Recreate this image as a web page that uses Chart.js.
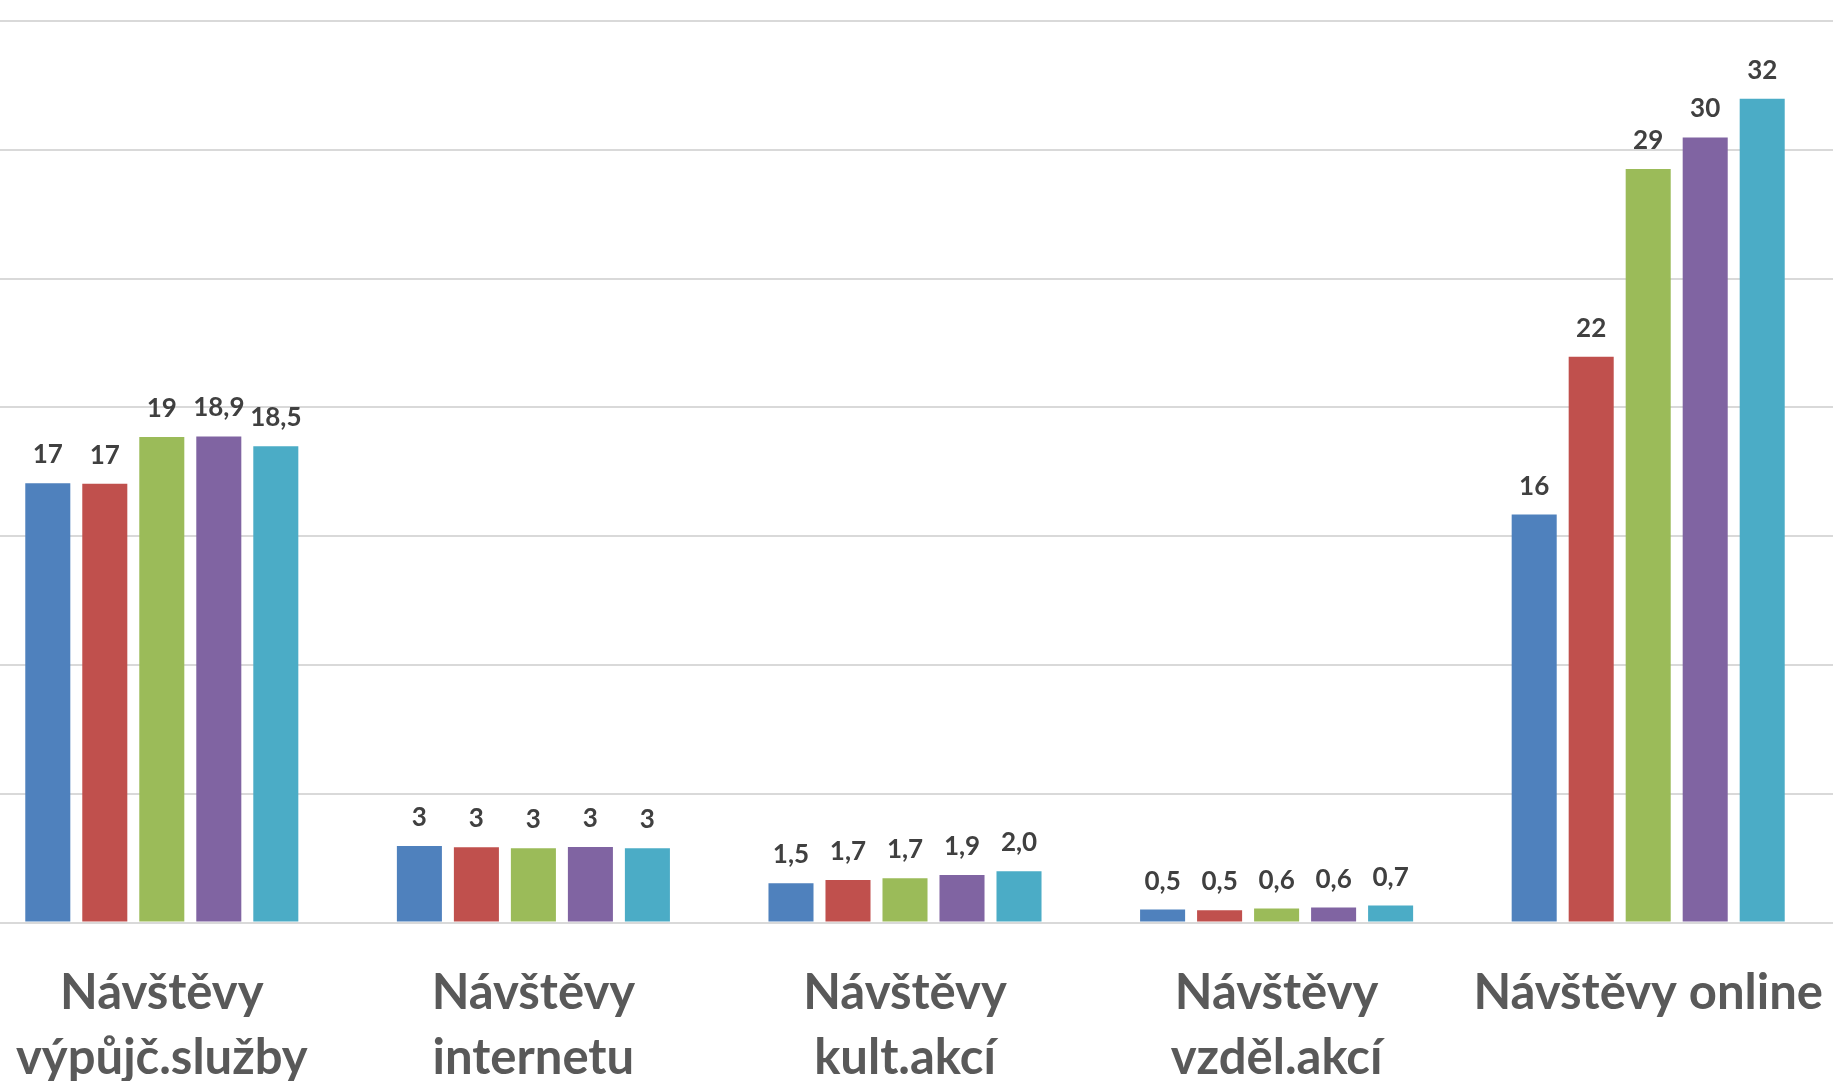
<!DOCTYPE html>
<html>
<head>
    <meta charset="utf-8">
    <title>Návštěvy</title>
    <script src="https://cdn.jsdelivr.net/npm/chart.js"></script>
    <style>
        html, body {
            margin: 0;
            padding: 0;
            background: #ffffff;
            overflow: hidden;
            width: 1833px;
            height: 1081px;
        }
        .chart-box {
            position: absolute;
            left: -24px;
            top: 0;
            width: 1858px;
            height: 1130px;
        }
    </style>
</head>
<body>
<div class="chart-box">
    <canvas id="visits-chart"></canvas>
</div>
<script>
    // categories (two-line labels)
    const categories = [
        ['Návštěvy', 'výpůjč.služby'],
        ['Návštěvy', 'internetu'],
        ['Návštěvy', 'kult.akcí'],
        ['Návštěvy', 'vzděl.akcí'],
        ['Návštěvy online']
    ];

    // bar heights, one array per series
    const series1 = [17.05, 2.97, 1.52, 0.50, 15.84];
    const series2 = [17.03, 2.92, 1.65, 0.48, 21.96];
    const series3 = [18.85, 2.88, 1.72, 0.54, 29.25];
    const series4 = [18.87, 2.93, 1.84, 0.58, 30.48];
    const series5 = [18.49, 2.88, 1.99, 0.66, 31.98];

    // data labels as printed above the bars
    const labels1 = ['17', '3', '1,5', '0,5', '16'];
    const labels2 = ['17', '3', '1,7', '0,5', '22'];
    const labels3 = ['19', '3', '1,7', '0,6', '29'];
    const labels4 = ['18,9', '3', '1,9', '0,6', '30'];
    const labels5 = ['18,5', '3', '2,0', '0,7', '32'];

    const colors = ['#4f81bd', '#c0504d', '#9bbb59', '#8064a2', '#4bacc6'];
    const allValues = [series1, series2, series3, series4, series5];
    const allLabels = [labels1, labels2, labels3, labels4, labels5];

    const AXIS_BOTTOM = 922.5;
    const BOX_HEIGHT = 1130;

    // Draw the value labels above each bar
    const barLabels = {
        id: 'barLabels',
        afterDatasetsDraw(chart) {
            const ctx = chart.ctx;
            ctx.save();
            ctx.font = '700 26px Lato';
            ctx.fillStyle = '#404040';
            ctx.textAlign = 'center';
            ctx.textBaseline = 'alphabetic';
            chart.data.datasets.forEach((ds, i) => {
                chart.getDatasetMeta(i).data.forEach((bar, j) => {
                    ctx.fillText(allLabels[i][j], bar.x, bar.y - 20);
                });
            });
            ctx.restore();
        }
    };

    const ctx = document.getElementById('visits-chart').getContext('2d');
    new Chart(ctx, {
        type: 'bar',
        data: {
            labels: categories,
            datasets: allValues.map((vals, i) => ({
                label: 'Řada ' + (i + 1),
                data: vals,
                backgroundColor: colors[i],
                borderWidth: 0,
                categoryPercentage: 0.767,
                barPercentage: 0.79
            }))
        },
        options: {
            responsive: true,
            maintainAspectRatio: false,
            animation: false,
            layout: {
                padding: { top: 21, left: 0, right: 0, bottom: 0 }
            },
            plugins: {
                legend: { display: false },
                tooltip: { enabled: false }
            },
            scales: {
                x: {
                    grid: { display: false },
                    border: { display: false },
                    ticks: {
                        color: '#595959',
                        padding: 30,
                        maxRotation: 0,
                        autoSkip: false,
                        font: { family: 'Lato', weight: '700', size: 49, lineHeight: 65 / 49 }
                    },
                    afterFit(axis) {
                        axis.height = BOX_HEIGHT - AXIS_BOTTOM;
                        axis.paddingLeft = 0;
                        axis.paddingRight = 0;
                    }
                },
                y: {
                    min: 0,
                    max: 35,
                    ticks: { display: false, stepSize: 5 },
                    border: { display: false },
                    grid: { color: '#d9d9d9', lineWidth: 2, drawTicks: false, tickLength: 0 },
                    afterFit(axis) {
                        axis.width = 0;
                        axis.paddingTop = 0;
                        axis.paddingBottom = 0;
                    }
                }
            }
        },
        plugins: [barLabels]
    });
</script>
</body>
</html>
